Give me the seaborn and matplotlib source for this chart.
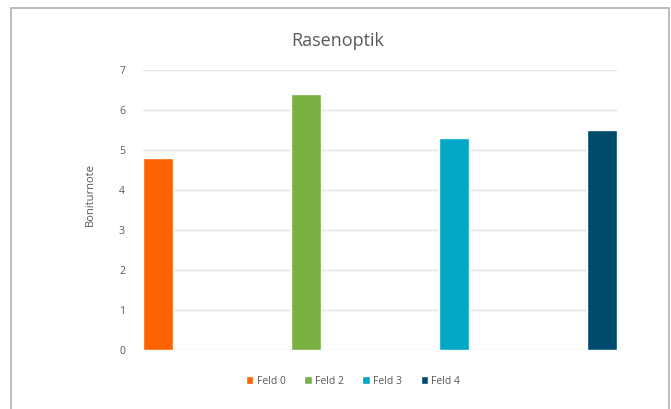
import matplotlib
matplotlib.use("Agg")
import matplotlib.pyplot as plt
from matplotlib.patches import Rectangle
import seaborn as sns
import pandas as pd

# Scores per field
felder = ["Feld 0", "Feld 2", "Feld 3", "Feld 4"]
noten = [4.8, 6.4, 5.3, 5.5]
farben = ["#FF6300", "#79B042", "#00A8C6", "#004A6E"]
y_ticks = [0, 1, 2, 3, 4, 5, 6, 7]

df = pd.DataFrame({"Feld": felder, "Note": noten})

sns.set_theme(style="white")
plt.rcParams["font.family"] = ["Open Sans", "DejaVu Sans"]

W, H = 671, 409
fig = plt.figure(figsize=(W / 100, H / 100), dpi=100)
fig.patch.set_facecolor("white")

# outer chart frame
fig.add_artist(Rectangle((11 / W, -0.01), (669 - 11) / W, 1.01 - 8 / H,
                         transform=fig.transFigure, fill=False,
                         edgecolor="#b0b0b0", linewidth=1.2))

ax = fig.add_axes([143 / W, 1 - 350 / H, (617 - 143) / W, (350 - 70) / H])
sns.barplot(data=df, x="Feld", y="Note", hue="Feld", palette=farben,
            width=0.2, saturation=1, legend=False, ax=ax, zorder=3)

ax.set_xlim(-0.1, 3.1)
ax.set_ylim(0, 7)
ax.set_yticks(y_ticks)
ax.set_yticklabels([str(t) for t in y_ticks], fontsize=7.5, color="#595959")
ax.tick_params(axis="y", length=0, pad=13)
ax.set_xticks([])
ax.set_xlabel("")
ax.set_ylabel("Boniturnote", fontsize=8, color="#595959")
ax.yaxis.set_label_coords(-(143 - 96) / (617 - 143), (350 - 195) / 280)
ax.yaxis.grid(True, color="#e3e3e3", linewidth=1, zorder=0)
for s in ax.spines.values():
    s.set_visible(False)

fig.text(338 / W, 1 - 41 / H, "Rasenoptik", ha="center", va="center",
         fontsize=13, color="#595959")

handles = [Rectangle((0, 0), 1, 1, facecolor=c) for c in farben]
fig.legend(handles, felder, loc="center", bbox_to_anchor=(353 / W, 1 - 381 / H),
           ncol=4, frameon=False, fontsize=7.5, labelcolor="#595959",
           handlelength=0.7, handleheight=0.7, handletextpad=0.3,
           columnspacing=1.8)

fig.savefig("out.png", dpi=100, facecolor="white")
